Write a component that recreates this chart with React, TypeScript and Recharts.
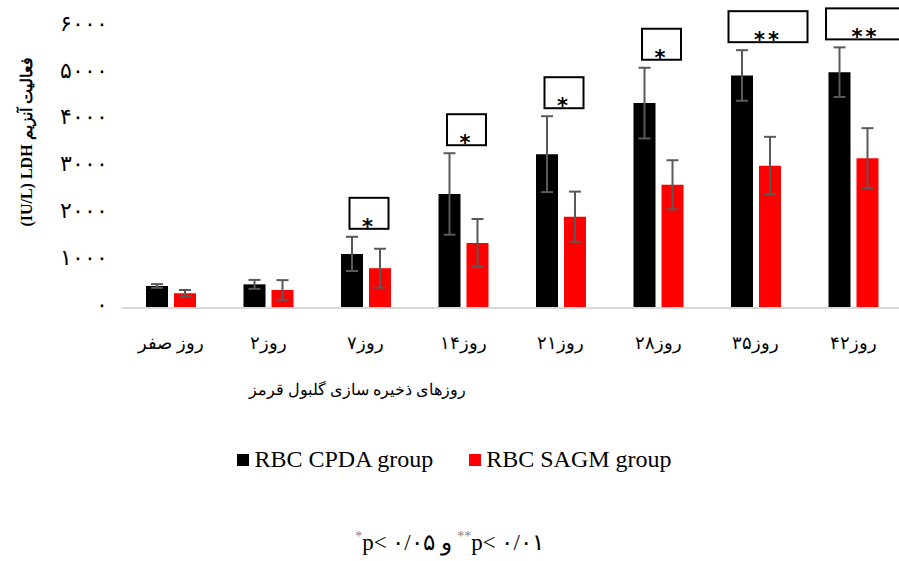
import React from 'react';
import { BarChart, Bar, XAxis, YAxis, ErrorBar, LabelList } from 'recharts';

const days = ['روز صفر', 'روز۲', 'روز۷', 'روز۱۴', 'روز۲۱', 'روز۲۸', 'روز۳۵', 'روز۴۲'];
const cpda = [470, 505, 1155, 2435, 3285, 4375, 4965, 5035];
const cpdaErr = [40, 95, 365, 870, 810, 755, 540, 530];
const sagm = [315, 385, 850, 1390, 1950, 2630, 3040, 3200];
const sagmErr = [70, 210, 415, 510, 535, 525, 615, 640];
const signif = ['', '', '*', '*', '*', '*', '**', '**'];

const yTicks = [0, 1000, 2000, 3000, 4000, 5000, 6000];
const yTickLabels = ['۰', '۱۰۰۰', '۲۰۰۰', '۳۰۰۰', '۴۰۰۰', '۵۰۰۰', '۶۰۰۰'];

const seriesNames = ['RBC CPDA group', 'RBC SAGM group'];
const seriesColors = ['#000000', '#ff0000'];

const data = days.map((day, i) => ({
  day,
  cpda: cpda[i],
  cpdaErr: cpdaErr[i],
  sagm: sagm[i],
  sagmErr: sagmErr[i],
  sig: signif[i],
}));

const serif = "'Liberation Serif', 'DejaVu Serif', serif";
const BAR_GAP = 6;

const SigBox = (props: any) => {
  const { x, y, width, height, index } = props;
  const sig = signif[index];
  if (!sig) return null;
  const cx = x + width + BAR_GAP / 2 + (sig.length > 1 ? 12 : 3);
  const errTop = y - (cpdaErr[index] / cpda[index]) * height;
  const bottom = errTop - 8;
  const h = 31;
  const w = sig.length > 1 ? 79 : 39;
  return (
    <g>
      <rect x={cx - w / 2} y={bottom - h} width={w} height={h} fill="#fff" stroke="#000" strokeWidth={2} />
      <text x={cx} y={bottom + 5} textAnchor="middle" fontSize={21} fontWeight="bold" fontFamily="'DejaVu Sans', sans-serif" fill="#000" letterSpacing={3}>
        {sig}
      </text>
    </g>
  );
};

const YTitle = () => (
  <text x={26} y={142} transform="rotate(-90 26 142)" textAnchor="middle" dominantBaseline="central" fontSize={16} fontWeight="bold" fontFamily={serif} fill="#000">
    (IU/L) LDH فعالیت آنزیم
  </text>
);

export default function App() {
  return (
    <div style={{ position: 'absolute', left: 0, top: 0, width: 899, height: 561, overflow: 'hidden', background: '#fff' }}>
      <BarChart
        width={910}
        height={561}
        data={data}
        margin={{ top: 27, right: 8, bottom: 213, left: 0 }}
        barGap={BAR_GAP}
        barCategoryGap={24}
      >
        <XAxis
          dataKey="day"
          axisLine={{ stroke: '#d9d9d9', strokeWidth: 2 }}
          tickLine={false}
          tickSize={0}
          tickMargin={28}
          height={40}
          interval={0}
          tick={{ fontSize: 18, fill: '#000', fontFamily: serif }}
        />
        <YAxis
          domain={[0, 6000]}
          ticks={yTicks}
          width={122}
          axisLine={false}
          tickLine={false}
          tickSize={0}
          tickMargin={14}
          tickFormatter={(v: number) => yTickLabels[yTicks.indexOf(v)]}
          tick={{ fontSize: 22, fill: '#000', fontFamily: serif, dy: -4 }}
          label={<YTitle />}
        />
        <Bar dataKey="cpda" name={seriesNames[0]} fill={seriesColors[0]} barSize={22} isAnimationActive={false}>
          <ErrorBar dataKey="cpdaErr" width={6} stroke="#595959" strokeWidth={2} />
          <LabelList dataKey="sig" content={SigBox} />
        </Bar>
        <Bar dataKey="sagm" name={seriesNames[1]} fill={seriesColors[1]} barSize={22} isAnimationActive={false}>
          <ErrorBar dataKey="sagmErr" width={6} stroke="#595959" strokeWidth={2} />
        </Bar>
      </BarChart>

      <div style={{ position: 'absolute', left: 157, width: 400, top: 380, textAlign: 'center', fontFamily: serif, fontSize: 16, whiteSpace: 'nowrap' }}>
        روزهای ذخیره سازی گلبول قرمز
      </div>

      <div style={{ position: 'absolute', left: 0, width: 899, top: 446, display: 'flex', justifyContent: 'center', fontFamily: serif, fontSize: 24, paddingLeft: 10, boxSizing: 'border-box' }}>
        {seriesNames.map((name, i) => (
          <div key={name} style={{ display: 'flex', alignItems: 'center', marginRight: i === 0 ? 36 : 0 }}>
            <span style={{ display: 'inline-block', width: 12, height: 12, background: seriesColors[i], marginRight: 5 }} />
            <span>{name}</span>
          </div>
        ))}
      </div>

      <div style={{ position: 'absolute', left: 0, width: 899, top: 529, textAlign: 'center', fontFamily: serif, fontSize: 23, direction: 'ltr' }}>
        <sup style={{ color: '#7f7f7f', fontSize: 14 }}>*</sup>p&lt; ۰/۰۵ و <sup style={{ color: '#7f7f7f', fontSize: 14 }}>**</sup>p&lt; ۰/۰۱
      </div>
    </div>
  );
}
